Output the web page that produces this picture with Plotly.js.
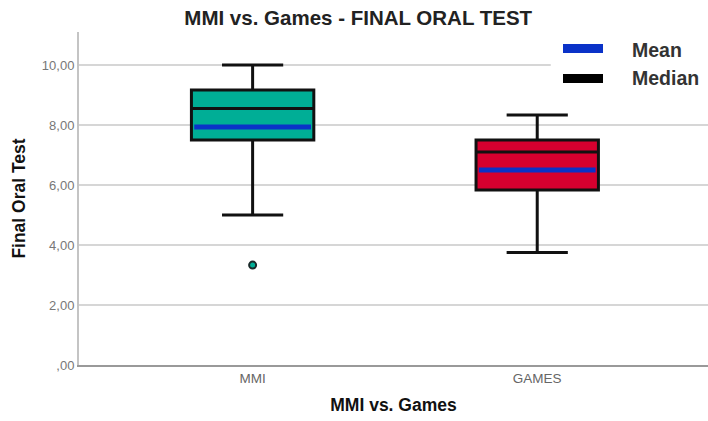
<!DOCTYPE html>
<html>
<head>
<meta charset="utf-8">
<script src="https://cdn.plot.ly/plotly-3.0.1.min.js"></script>
<style>
  html, body { margin: 0; padding: 0; background: #fff; overflow: hidden; }
  #chart { width: 708px; height: 421px; }
</style>
</head>
<body>
<div id="chart"></div>
<script>
// Group summary statistics for the final oral test scores
const groups = ['MMI', 'GAMES'];
const groupPos = [0, 1];
const lowerWhisker = [5.0, 3.75];
const q1 = [7.5, 5.83];
const medians = [8.55, 7.1];
const q3 = [9.17, 7.5];
const upperWhisker = [10.0, 8.33];
const means = [7.93, 6.5];
const outlierGroup = [0];
const outlierValues = [3.33];

const yTickVals = [0, 2, 4, 6, 8, 10];
const yTickText = [',00', '2,00', '4,00', '6,00', '8,00', '10,00'];

const fills = ['#00AE96', '#D6002F'];
const boxWidth = 0.43;
const meanHalf = 0.205;
const font = 'Liberation Sans, Arial, sans-serif';

const traces = [];

groups.forEach((g, i) => {
  traces.push({
    type: 'box',
    name: g,
    x: [groupPos[i]],
    q1: [q1[i]],
    median: [medians[i]],
    q3: [q3[i]],
    lowerfence: [lowerWhisker[i]],
    upperfence: [upperWhisker[i]],
    width: boxWidth,
    whiskerwidth: 0.5,
    fillcolor: fills[i],
    line: { color: '#111', width: 3 },
    boxpoints: false,
    showlegend: false,
    hoverinfo: 'skip'
  });
});

// Mean markers drawn as thick blue bars across each box
groups.forEach((g, i) => {
  traces.push({
    type: 'scatter',
    mode: 'lines',
    x: [groupPos[i] - meanHalf, groupPos[i] + meanHalf],
    y: [means[i], means[i]],
    line: { color: '#0A32C8', width: 5 },
    showlegend: false,
    hoverinfo: 'skip'
  });
});

// Outlying observation
traces.push({
  type: 'scatter',
  mode: 'markers',
  x: outlierGroup.map(k => groupPos[k]),
  y: outlierValues,
  marker: { size: 7, color: fills[0], line: { color: '#1a2a2a', width: 2 } },
  showlegend: false,
  hoverinfo: 'skip'
});

const layout = {
  width: 708,
  height: 421,
  margin: { l: 79, r: 0, t: 32, b: 56 },
  paper_bgcolor: '#fff',
  plot_bgcolor: '#fff',
  showlegend: false,
  title: {
    text: '<b>MMI vs. Games - FINAL ORAL TEST</b>',
    font: { family: font, size: 20.5, color: '#222' },
    x: 0.506, xanchor: 'center', y: 0.957, yanchor: 'middle'
  },
  xaxis: {
    range: [-0.61, 1.6],
    tickvals: groupPos,
    ticktext: groups,
    tickfont: { family: font, size: 13.5, color: '#666' },
    ticks: '',
    showgrid: false,
    zeroline: false,
    showline: true,
    linecolor: '#999',
    linewidth: 2,
    title: {
      text: '<b>MMI vs. Games</b>',
      font: { family: font, size: 17.5, color: '#111' },
      standoff: 14
    }
  },
  yaxis: {
    range: [0, 11.1],
    tickvals: yTickVals,
    ticktext: yTickText,
    tickfont: { family: font, size: 13, color: '#777' },
    ticks: '',
    showgrid: true,
    gridcolor: '#d6d6d6',
    gridwidth: 1.5,
    zeroline: false,
    showline: true,
    linecolor: '#c4c4c4',
    linewidth: 2,
    title: {
      text: '<b>Final Oral Test</b>',
      font: { family: font, size: 17.5, color: '#111' },
      standoff: 12
    }
  },
  shapes: [
    // legend panel background
    { type: 'rect', xref: 'paper', yref: 'paper', x0: 0.75, x1: 1.0, y0: 0.8, y1: 1.0,
      fillcolor: '#fff', line: { width: 0 }, layer: 'above' },
    // Mean swatch
    { type: 'rect', xref: 'paper', yref: 'paper',
      x0: (563 - 79) / 629, x1: (603 - 79) / 629,
      y0: (365 - 53) / 333, y1: (365 - 44) / 333,
      fillcolor: '#0A32C8', line: { width: 0 }, layer: 'above' },
    // Median swatch
    { type: 'rect', xref: 'paper', yref: 'paper',
      x0: (563 - 79) / 629, x1: (603 - 79) / 629,
      y0: (365 - 83) / 333, y1: (365 - 74) / 333,
      fillcolor: '#000', line: { width: 0 }, layer: 'above' }
  ],
  annotations: [
    { xref: 'paper', yref: 'paper', x: (630 - 79) / 629, y: (365 - 50) / 333,
      xanchor: 'left', yanchor: 'middle', showarrow: false,
      text: '<b>Mean</b>', font: { family: font, size: 19.5, color: '#333' } },
    { xref: 'paper', yref: 'paper', x: (630 - 79) / 629, y: (365 - 78) / 333,
      xanchor: 'left', yanchor: 'middle', showarrow: false,
      text: '<b>Median</b>', font: { family: font, size: 19.5, color: '#333' } }
  ]
};

Plotly.newPlot('chart', traces, layout, { staticPlot: true, displayModeBar: false });
</script>
</body>
</html>
